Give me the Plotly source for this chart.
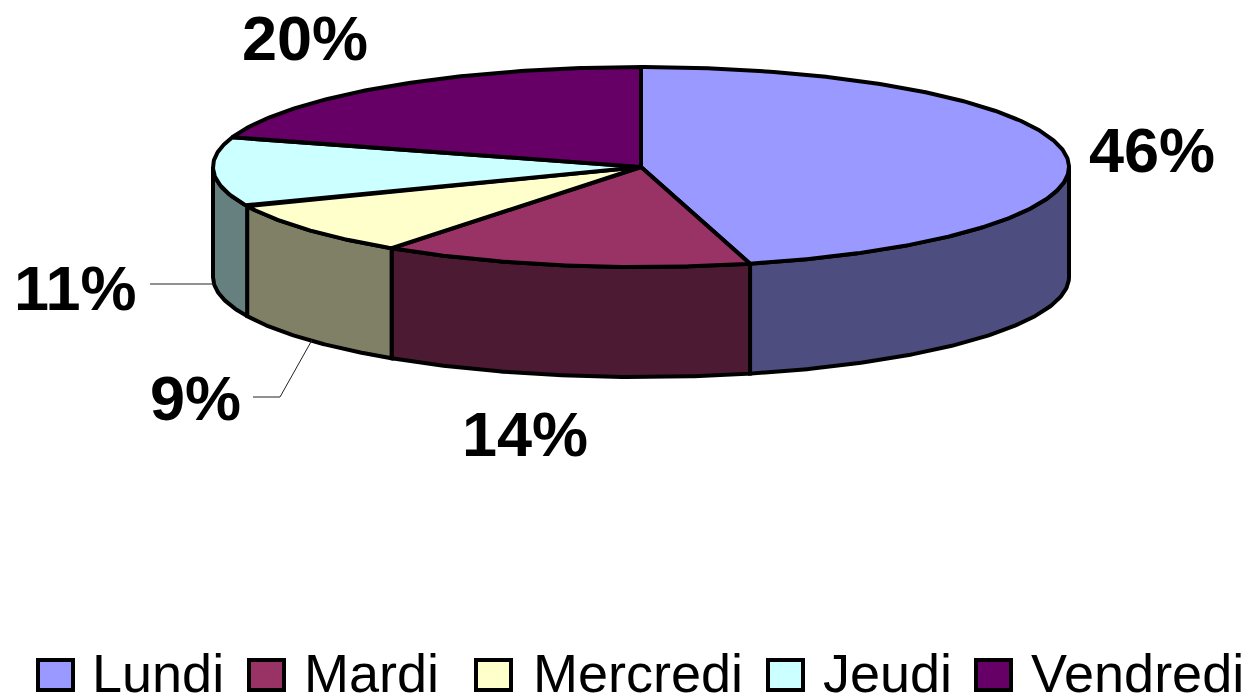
import numpy as np
import plotly.graph_objects as go

categories = ["Lundi", "Mardi", "Mercredi", "Jeudi", "Vendredi"]
values = [45.9, 14.0, 8.7, 11.2, 20.2]
top_colors = ["#9999FF", "#993366", "#FFFFCC", "#CCFFFF", "#660066"]
side_colors = ["#4D4D80", "#4D1A33", "#808066", "#668080", "#330033"]

# pie geometry, in page pixels
CX, CY, RX, RY, DEPTH = 641, 167, 428, 100, 110
LW = 4
label_pos = [(1152, 150), (525, 434), (195, 398), (75, 288), (305, 38)]
legend_box_x = [38, 249, 476, 768, 976]
legend_text_x = [90, 302, 531, 821, 1029]
leaders = [([150, 214], [284, 284]), ([253, 280, 312], [397, 397, 340])]


def rim(a0, a1, dy=0.0):
    t = np.radians(np.linspace(a0, a1, max(int(abs(a1 - a0)) * 2, 2)))
    return CX + RX * np.sin(t), CY - RY * np.cos(t) + dy


fig = go.Figure()
edges = np.concatenate([[0], np.cumsum(values)]) * 360.0 / sum(values)

# front wall: only the part of the rim between 90 and 270 degrees is visible
for i, name in enumerate(categories):
    a0, a1 = max(edges[i], 90), min(edges[i + 1], 270)
    if a1 <= a0:
        continue
    x0, y0 = rim(a0, a1)
    x1, y1 = rim(a1, a0, DEPTH)
    fig.add_trace(go.Scatter(
        x=np.concatenate([x0, x1, x0[:1]]), y=np.concatenate([y0, y1, y0[:1]]),
        mode="lines", fill="toself", fillcolor=side_colors[i],
        line=dict(color="black", width=LW), name=name, hoverinfo="name",
    ))

# top face
for i, name in enumerate(categories):
    x0, y0 = rim(edges[i], edges[i + 1])
    fig.add_trace(go.Scatter(
        x=np.concatenate([[CX], x0, [CX]]), y=np.concatenate([[CY], y0, [CY]]),
        mode="lines", fill="toself", fillcolor=top_colors[i],
        line=dict(color="black", width=LW), name=name, hoverinfo="name",
    ))

# leader lines
for lx, ly in leaders:
    fig.add_trace(go.Scatter(x=lx, y=ly, mode="lines",
                             line=dict(color="#222222", width=1), hoverinfo="skip"))

annotations = []
for v, (x, y) in zip(values, label_pos):
    annotations.append(dict(
        x=x, y=y, xref="x", yref="y", text=f"<b>{round(100 * v / sum(values))}%</b>",
        showarrow=False, xanchor="center", yanchor="middle",
        font=dict(family="Liberation Sans", size=63, color="black"),
    ))

shapes = []
for name, color, bx, tx in zip(categories, top_colors, legend_box_x, legend_text_x):
    shapes.append(dict(type="rect", x0=bx, x1=bx + 35, y0=660, y1=690, xref="x", yref="y",
                       fillcolor=color, line=dict(color="black", width=4)))
    annotations.append(dict(
        x=tx, y=673, xref="x", yref="y", text=name, showarrow=False,
        xanchor="left", yanchor="middle",
        font=dict(family="Liberation Sans", size=54, color="black"),
    ))

fig.update_layout(
    width=1253, height=695, margin=dict(l=0, r=0, t=0, b=0),
    paper_bgcolor="white", plot_bgcolor="white", showlegend=False,
    xaxis=dict(range=[0, 1253], visible=False, fixedrange=True),
    yaxis=dict(range=[695, 0], visible=False, fixedrange=True),
    annotations=annotations, shapes=shapes,
)
fig.write_html("out.html", post_script="document.body.style.margin='0';document.body.style.overflow='hidden';",
               config={"displayModeBar": False})
